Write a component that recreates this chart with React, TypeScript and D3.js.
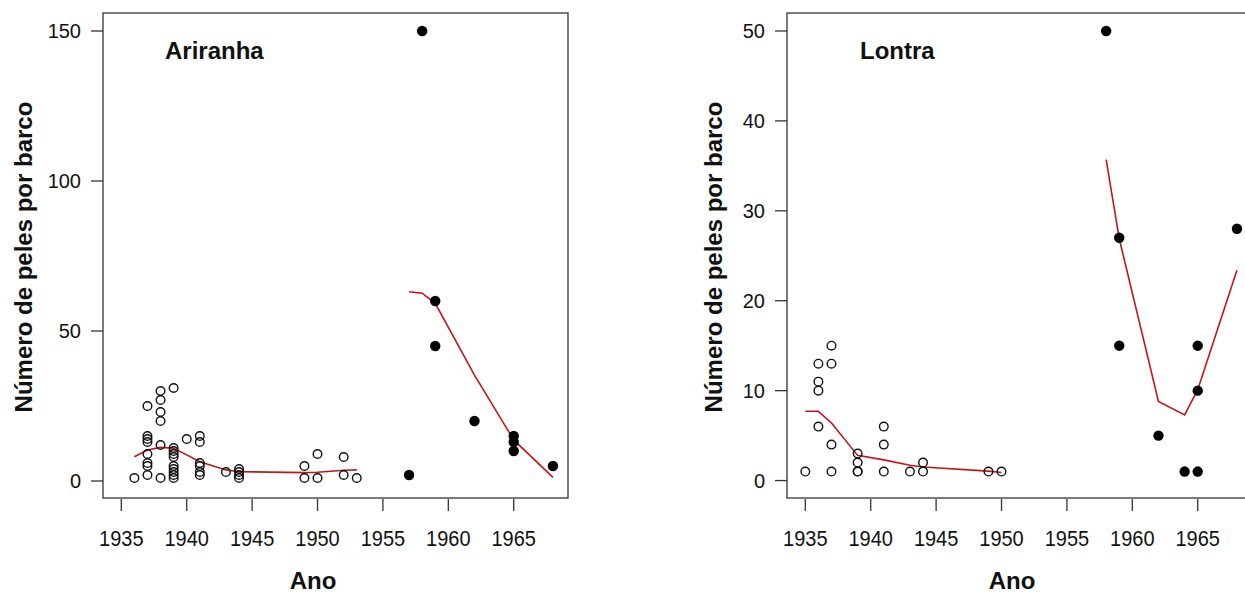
import * as React from "react";
import * as d3 from "d3";

// shared x axis
const yearTicks = [1935, 1940, 1945, 1950, 1955, 1960, 1965];

// Ariranha: before 1955 (open), after 1955 (filled)
const ariEarlyYears = [
  1936,
  1937, 1937, 1937, 1937, 1937, 1937, 1937, 1937,
  1938, 1938, 1938, 1938, 1938, 1938,
  1939, 1939, 1939, 1939, 1939, 1939, 1939, 1939, 1939, 1939,
  1940,
  1941, 1941, 1941, 1941, 1941, 1941,
  1943,
  1944, 1944, 1944, 1944,
  1949, 1949, 1950, 1950, 1952, 1952, 1953,
];
const ariEarlyValues = [
  1,
  25, 15, 14, 13, 9, 6, 5, 2,
  30, 27, 23, 20, 12, 1,
  31, 11, 10, 9, 8, 5, 4, 3, 2, 1,
  14,
  15, 13, 6, 5, 3, 2,
  3,
  4, 3, 2, 1,
  5, 1, 9, 1, 8, 2, 1,
];
const ariLateYears = [1957, 1958, 1959, 1959, 1962, 1965, 1965, 1965, 1968];
const ariLateValues = [2, 150, 60, 45, 20, 15, 13, 10, 5];

const ariFitEarlyYears = [1936, 1937, 1938, 1939, 1940, 1941, 1943, 1944, 1949, 1950, 1952, 1953];
const ariFitEarlyValues = [8.1, 10.3, 11.2, 10.9, 8.7, 6.4, 3.7, 3.1, 2.8, 2.9, 3.6, 3.7];
const ariFitLateYears = [1957, 1958, 1959, 1962, 1965, 1968];
const ariFitLateValues = [63.1, 62.6, 59.2, 35.3, 13.7, 1.2];
const ariTicks = [0, 50, 100, 150];

// Lontra
const lonEarlyYears = [
  1935,
  1936, 1936, 1936, 1936,
  1937, 1937, 1937, 1937,
  1939, 1939, 1939, 1939,
  1941, 1941, 1941,
  1943, 1944, 1944, 1949, 1950,
];
const lonEarlyValues = [
  1,
  13, 11, 10, 6,
  15, 13, 4, 1,
  3, 2, 1, 1,
  6, 4, 1,
  1, 2, 1, 1, 1,
];
const lonLateYears = [1958, 1959, 1959, 1962, 1964, 1965, 1965, 1965, 1968];
const lonLateValues = [50, 27, 15, 5, 1, 15, 10, 1, 28];

const lonFitEarlyYears = [1935, 1936, 1937, 1939, 1941, 1943, 1944, 1949, 1950];
const lonFitEarlyValues = [7.7, 7.7, 6.4, 2.8, 2.3, 1.7, 1.5, 1.05, 0.9];
const lonFitLateYears = [1958, 1959, 1962, 1964, 1965, 1968];
const lonFitLateValues = [35.7, 26.9, 8.8, 7.3, 10.1, 23.4];
const lonTicks = [0, 10, 20, 30, 40, 50];

const font = "'Liberation Sans', Arial, sans-serif";
const red = "#c0161a";

type PanelProps = {
  left: number;
  title: string;
  titleX: number;
  yMin: number;
  yMax: number;
  yTicks: number[];
  ylabelX: number;
  xlabelX: number;
  earlyYears: number[];
  earlyValues: number[];
  lateYears: number[];
  lateValues: number[];
  fits: { years: number[]; values: number[] }[];
};

const Panel = (p: PanelProps) => {
  const top = 13;
  const bottom = 498;
  const width = 465;
  const x = d3.scaleLinear().domain([1933.6, 1969.15]).range([p.left, p.left + width]);
  const y = d3.scaleLinear().domain([p.yMin, p.yMax]).range([bottom, top]);

  const line = d3
    .line<[number, number]>()
    .x((d) => x(d[0]))
    .y((d) => y(d[1]));

  return (
    <g>
      <rect x={p.left} y={top} width={width} height={bottom - top} fill="none" stroke="#333" strokeWidth={1.3} />

      {yearTicks.map((t) => (
        <g key={t}>
          <line x1={x(t)} x2={x(t)} y1={499} y2={511} stroke="#333" strokeWidth={1.3} />
          <text
            transform={`translate(${x(t)},546) scale(1,1.12)`}
            textAnchor="middle"
            fontSize={20}
            fontFamily={font}
            fill="#111"
          >
            {t}
          </text>
        </g>
      ))}

      {p.yTicks.map((t) => (
        <g key={t}>
          <line x1={p.left - 12} x2={p.left} y1={y(t)} y2={y(t)} stroke="#333" strokeWidth={1.3} />
          <text x={p.left - 22} y={y(t) + 7} textAnchor="end" fontSize={20} fontFamily={font} fill="#111">
            {t}
          </text>
        </g>
      ))}

      <text
        transform={`translate(${p.ylabelX},257) rotate(-90)`}
        textAnchor="middle"
        dominantBaseline="central"
        fontSize={24}
        fontWeight="bold"
        fontFamily={font}
        fill="#111"
      >
        Número de peles por barco
      </text>
      <text x={p.xlabelX} y={589} textAnchor="middle" fontSize={24} fontWeight="bold" fontFamily={font} fill="#111">
        Ano
      </text>
      <text x={p.titleX} y={59} fontSize={24} fontWeight="bold" fontFamily={font} fill="#111">
        {p.title}
      </text>

      {p.fits.map((f, i) => (
        <path
          key={i}
          d={line(f.years.map((yr, j) => [yr, f.values[j]] as [number, number])) || ""}
          fill="none"
          stroke={red}
          strokeWidth={1.6}
        />
      ))}

      {p.earlyYears.map((yr, i) => (
        <circle key={"e" + i} cx={x(yr)} cy={y(p.earlyValues[i])} r={4.3} fill="none" stroke="#111" strokeWidth={1.4} />
      ))}
      {p.lateYears.map((yr, i) => (
        <circle key={"l" + i} cx={x(yr)} cy={y(p.lateValues[i])} r={5.2} fill="#000" />
      ))}
    </g>
  );
};

export default function App() {
  return (
    <svg
      width={1245}
      height={596}
      style={{ position: "absolute", left: 0, top: 0, background: "#fff" }}
    >
      <rect width={1245} height={596} fill="#fff" />
      <Panel
        left={103}
        title="Ariranha"
        titleX={165}
        yMin={-5.67}
        yMax={156}
        yTicks={ariTicks}
        ylabelX={23}
        xlabelX={313}
        earlyYears={ariEarlyYears}
        earlyValues={ariEarlyValues}
        lateYears={ariLateYears}
        lateValues={ariLateValues}
        fits={[
          { years: ariFitEarlyYears, values: ariFitEarlyValues },
          { years: ariFitLateYears, values: ariFitLateValues },
        ]}
      />
      <Panel
        left={787}
        title="Lontra"
        titleX={860}
        yMin={-1.94}
        yMax={52}
        yTicks={lonTicks}
        ylabelX={713}
        xlabelX={1012}
        earlyYears={lonEarlyYears}
        earlyValues={lonEarlyValues}
        lateYears={lonLateYears}
        lateValues={lonLateValues}
        fits={[
          { years: lonFitEarlyYears, values: lonFitEarlyValues },
          { years: lonFitLateYears, values: lonFitLateValues },
        ]}
      />
    </svg>
  );
}
